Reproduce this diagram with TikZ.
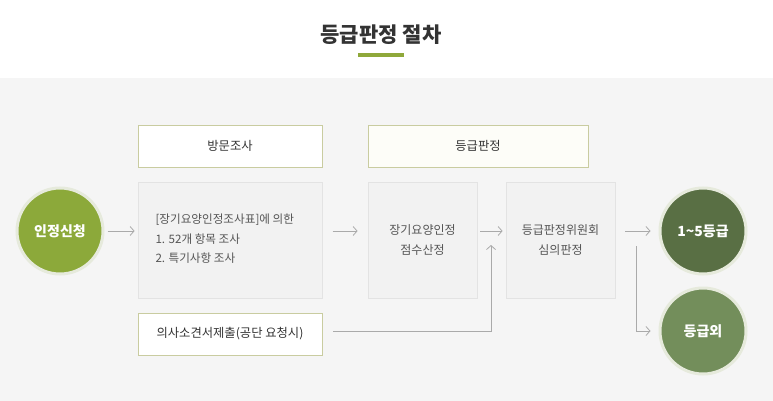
\documentclass[tikz,border=0pt]{standalone}
\usepackage{fontspec}
\setmainfont{Noto Sans CJK KR}
\usetikzlibrary{arrows.meta,calc}
\definecolor{bggray}{HTML}{F5F5F5}
\definecolor{titlec}{HTML}{333333}
\definecolor{txtc}{HTML}{555555}
\definecolor{olivebar}{HTML}{8FA83A}
\definecolor{hdrborder}{HTML}{C9CCA0}
\definecolor{hdrfill}{HTML}{FDFDF8}
\definecolor{boxfill}{HTML}{F2F2F2}
\definecolor{boxborder}{HTML}{E3E3E3}
\definecolor{arrc}{HTML}{AAAAAA}
\definecolor{cgreen}{HTML}{8CA93A}
\definecolor{cdark}{HTML}{596F44}
\definecolor{cmid}{HTML}{738E5B}
\definecolor{ringc}{HTML}{E6EADC}
\tikzset{
  hdrbox/.style={draw=hdrborder, fill=white, line width=0.8pt, minimum height=42, inner sep=0pt, font=\fontsize{12.3}{14}\selectfont, text=titlec},
  stepbox/.style={draw=boxborder, fill=boxfill, line width=0.8pt, minimum height=116, inner sep=0pt, font=\fontsize{12}{19.5}\selectfont, text=txtc, align=center},
  circ/.style={circle, draw=ringc, line width=3pt, minimum size=86, inner sep=0pt, text=white, font=\fontsize{14}{16}\bfseries\selectfont},
  conn/.style={draw=arrc, line width=0.8pt, -{Straight Barb[length=4pt,width=9pt,line width=0.8pt]}},
}
\begin{document}
\begin{tikzpicture}[x=1pt,y=-1pt]
\useasboundingbox (0,0) rectangle (773,401);
\fill[white] (0,0) rectangle (773,78);
\fill[bggray] (0,78) rectangle (773,401);
% title
\node[font=\fontsize{21}{24}\bfseries\selectfont, text=titlec] (title) at (381,35) {등급판정 절차};
\fill[olivebar] (358,53.5) rectangle (404,57);
% headers
\node[hdrbox, minimum width=184] (visit) at (230,146) {방문조사};
\node[hdrbox, fill=hdrfill, minimum width=220] (grade) at (478,146) {등급판정};
\node[hdrbox, minimum width=184] (doc) at (230,334) {의사소견서제출(공단 요청시)};
% step boxes
\node[stepbox, minimum width=184] (survey) at (230,240) {};
\node[anchor=west, font=\fontsize{11.6}{19.5}\selectfont, text=txtc, align=left] (surveytxt) at (152,239) {[장기요양인정조사표]에 의한\\1. 52개 항목 조사\\2. 특기사항 조사};
\node[stepbox, minimum width=109] (score) at (422.5,240) {장기요양인정\\점수산정};
\node[stepbox, minimum width=109] (comm) at (560.5,240) {등급판정위원회\\심의판정};
% circles
\node[circ, fill=cgreen] (apply) at (60,231) {인정신청};
\node[circ, fill=cdark] (g15) at (703,231) {1\textasciitilde5등급};
\node[circ, fill=cmid] (gout) at (703,331) {등급외};
% connectors
\draw[conn, shorten <=3pt, shorten >=3pt] (apply.east) -- (apply.east -| survey.west);
\draw[conn, shorten <=11pt, shorten >=10pt] (survey.west |- apply.east) ++(184,0) -- (score.west |- apply.east);
\draw[conn, shorten <=3pt, shorten >=3pt] (score.east |- apply.east) -- (comm.west |- apply.east);
\draw[conn, shorten <=10pt, shorten >=8pt] (comm.east |- apply.east) -- (g15.west);
\coordinate (jb) at (491,331);
\coordinate (jm) at (491,245);
\draw[conn, shorten <=11pt] (doc.east |- jb) -- (jb) -- (jm);
\coordinate (br) at (636,246);
\draw[conn, shorten >=8pt] (br) |- (gout.west);
\end{tikzpicture}
\end{document}
